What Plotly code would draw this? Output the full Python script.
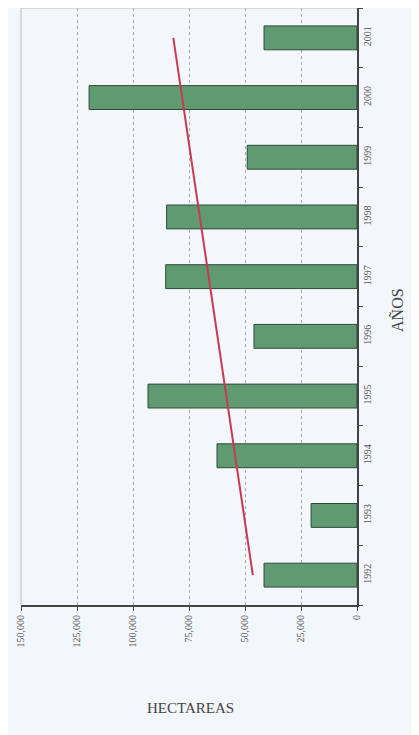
import plotly.graph_objects as go

# Data read from the (rotated) scanned chart
years = ["1992", "1993", "1994", "1995", "1996", "1997", "1998", "1999", "2000", "2001"]
hectareas = [41500, 20500, 62500, 93300, 46000, 85400, 85000, 49000, 119600, 41500]
trend_years = ["1992", "2001"]
trend_values = [46500, 82000]
value_ticks = [0, 25000, 50000, 75000, 100000, 125000, 150000]

BG = "#f3f6fa"
FONT = "Liberation Serif"

fig = go.Figure()

fig.add_trace(go.Bar(
    y=years,
    x=hectareas,
    orientation="h",
    width=0.4,
    marker=dict(color="#5f9a70", line=dict(color="#2f4a38", width=1)),
    showlegend=False,
))

fig.add_trace(go.Scatter(
    y=trend_years,
    x=trend_values,
    mode="lines",
    line=dict(color="#c73a52", width=2),
    showlegend=False,
))

# the page adds an 8px body margin, so the figure is shrunk by that much
fig.update_layout(
    width=411,
    height=727,
    margin=dict(l=13, r=62, t=0, b=130),
    paper_bgcolor=BG,
    plot_bgcolor=BG,
    font=dict(family=FONT, color="#444"),
    xaxis=dict(
        range=[150000, 0],
        tickvals=value_ticks,
        tickformat=",",
        tickangle=-90,
        tickfont=dict(size=10, family=FONT, color="#555"),
        ticks="outside",
        ticklen=4,
        tickcolor="#444",
        showline=True,
        linecolor="#444",
        linewidth=2,
        showgrid=True,
        gridcolor="#a8a8a8",
        griddash="dot",
        gridwidth=1,
        zeroline=False,
    ),
    yaxis=dict(
        side="right",
        type="category",
        range=[-0.5, 9.5],
        tickangle=-90,
        tickfont=dict(size=10, family=FONT, color="#555"),
        ticks="outside",
        tickson="boundaries",
        ticklen=4,
        tickcolor="#444",
        showline=True,
        linecolor="#444",
        linewidth=2,
        showgrid=False,
        zeroline=False,
    ),
    shapes=[
        dict(type="line", xref="paper", yref="paper", x0=0, x1=1, y0=1, y1=1,
             line=dict(color="#bbbbbb", width=1)),
        dict(type="line", xref="paper", yref="paper", x0=0, x1=0, y0=0, y1=1,
             line=dict(color="#bbbbbb", width=1)),
    ],
    annotations=[
        dict(text="HECTAREAS", xref="paper", yref="paper", x=0.503, y=-0.189,
             showarrow=False, font=dict(size=15, family=FONT, color="#444")),
        dict(text="AÑOS", xref="paper", yref="paper", x=1.15, y=0.494,
             textangle=-90, showarrow=False,
             font=dict(size=16, family=FONT, color="#444")),
    ],
)

fig.write_html("out.html")
